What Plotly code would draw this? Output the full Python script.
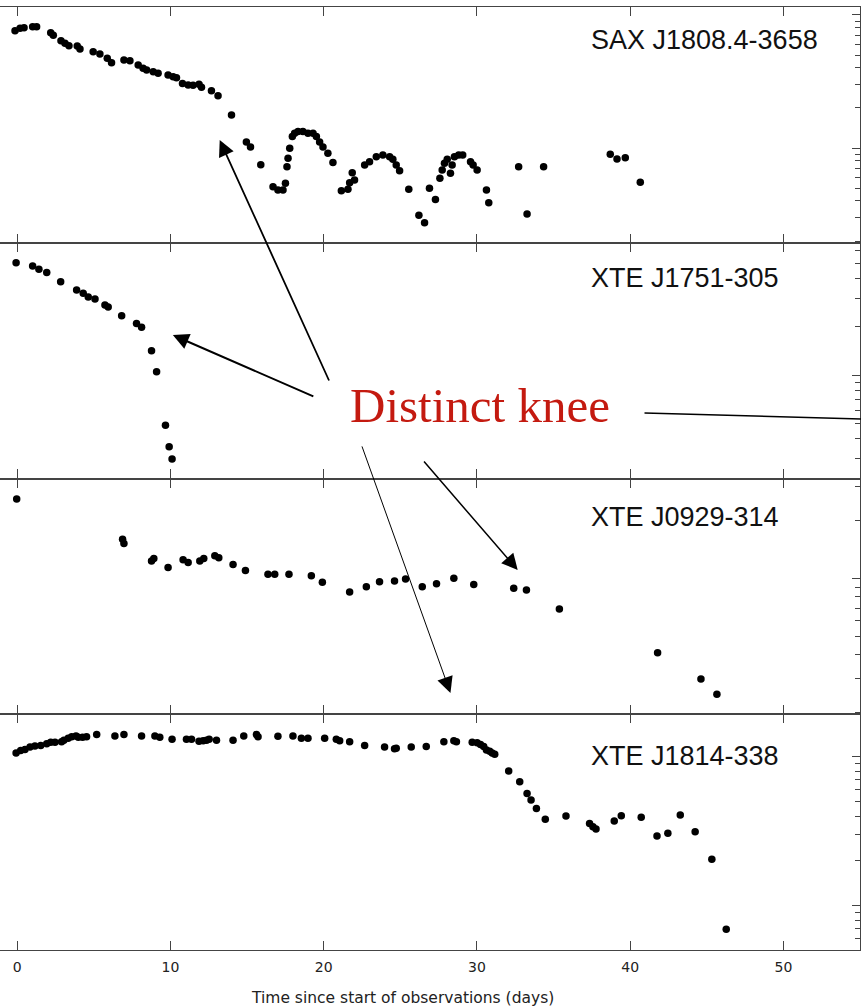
import math
import plotly.graph_objects as go
from plotly.subplots import make_subplots

# ---- light curves (time in days, flux in units of 1e-10 erg cm^-2 s^-1) ----
sax_t = [-0.15, 0.18, 0.44, 1.00, 1.26, 2.18, 2.35, 2.85, 3.11, 3.37, 3.91, 4.09, 4.95, 5.39,
         5.87, 6.15, 6.96, 7.35, 7.89, 8.21, 8.44, 8.87, 9.19, 9.84, 10.17, 10.39, 10.78, 11.15,
         11.47, 11.86, 12.02, 12.67, 13.10, 13.98, 14.95, 15.22, 15.89, 16.69, 17.01, 17.34,
         17.50, 17.60, 17.67, 17.78, 17.95, 18.10, 18.32, 18.64, 18.97, 19.30, 19.52, 19.73,
         19.95, 20.27, 20.60, 21.15, 21.58, 21.69, 21.86, 22.01, 22.67, 22.99, 23.43, 23.86,
         24.30, 24.51, 24.73, 24.95, 25.55, 26.21, 26.58, 26.90, 27.29, 27.58, 27.73, 27.88,
         28.06, 28.27, 28.38, 28.53, 28.81, 29.07, 29.58, 29.75, 30.01, 30.62, 30.77, 32.72,
         33.27, 34.35, 38.70, 39.14, 39.68, 40.66]
sax_f = [7.62, 7.94, 8.03, 8.17, 8.17, 7.36, 7.03, 6.41, 6.12, 5.88, 5.85, 5.55, 5.30, 5.09,
         4.72, 4.38, 4.59, 4.53, 4.21, 3.97, 3.86, 3.75, 3.65, 3.54, 3.44, 3.38, 3.06, 2.98,
         2.96, 3.01, 2.86, 2.70, 2.47, 1.77, 1.11, 1.02, 0.75, 0.512, 0.483, 0.483,
         0.543, 0.723, 0.837, 0.995, 1.22, 1.29, 1.33, 1.33, 1.29, 1.29, 1.22, 1.11,
         1.02, 0.912, 0.780, 0.478, 0.489, 0.548, 0.652, 0.575, 0.745, 0.789, 0.860, 0.886,
         0.860, 0.822, 0.745, 0.675, 0.489, 0.313, 0.274, 0.498, 0.411, 0.592, 0.684, 0.767,
         0.822, 0.645, 0.745, 0.860, 0.886, 0.886, 0.789, 0.745, 0.684, 0.483, 0.388, 0.723,
         0.319, 0.723, 0.897, 0.826, 0.845, 0.552]

j1751_t = [-0.08, 1.00, 1.41, 1.92, 2.83, 3.87, 4.30, 4.63, 5.07, 5.72, 5.93, 6.81, 7.78,
           8.11, 8.76, 9.09, 9.67, 9.91, 10.10]
j1751_f = [5.03, 4.80, 4.58, 4.38, 3.83, 3.40, 3.24, 3.08, 2.99, 2.74, 2.66, 2.35, 2.10,
           1.99, 1.42, 1.05, 0.485, 0.356, 0.299]

j0929_t = [-0.04, 6.87, 6.96, 8.76, 8.91, 9.84, 10.82, 11.15, 11.91, 12.17, 12.89, 13.15,
           14.08, 14.89, 16.36, 16.80, 17.73, 19.19, 19.91, 21.69, 22.78, 23.64, 24.62, 25.34,
           26.43, 27.36, 28.49, 29.79, 32.40, 33.23, 35.38, 41.79, 44.62, 45.66]
j0929_f = [2.59, 1.60, 1.52, 1.23, 1.27, 1.14, 1.25, 1.21, 1.23, 1.27, 1.31, 1.28,
           1.18, 1.10, 1.05, 1.05, 1.05, 1.03, 0.953, 0.849, 0.904, 0.960, 0.968, 0.992,
           0.904, 0.937, 1.00, 0.930, 0.887, 0.869, 0.692, 0.410, 0.299, 0.249]

j1814_t = [-0.08, 0.22, 0.50, 0.83, 1.15, 1.53, 1.92, 2.18, 2.46, 2.89, 3.04, 3.32, 3.55,
           3.83, 3.98, 4.26, 4.52, 5.18, 6.37, 6.96, 8.11, 8.98, 9.30, 10.10, 11.04, 11.37,
           11.86, 12.13, 12.35, 12.52, 13.00, 14.08, 14.78, 15.61, 15.71, 17.01, 17.99, 18.54,
           18.97, 20.06, 20.82, 21.04, 21.69, 22.67, 23.97, 24.62, 24.73, 25.71, 26.69, 27.84,
           28.49, 28.66, 29.69, 30.01, 30.23, 30.44, 30.62, 30.83, 30.99, 31.16, 32.07, 32.79,
           33.27, 33.53, 33.88, 34.46, 35.81, 37.35, 37.57, 37.77, 38.96, 39.42, 40.72, 41.75,
           42.46, 43.27, 44.24, 45.33, 46.27]
j1814_f = [1.06, 1.10, 1.12, 1.16, 1.18, 1.19, 1.22, 1.25, 1.25, 1.26, 1.29, 1.33, 1.36,
           1.38, 1.35, 1.35, 1.36, 1.41, 1.38, 1.41, 1.38, 1.38, 1.35, 1.31, 1.31, 1.31,
           1.27, 1.28, 1.29, 1.31, 1.29, 1.29, 1.38, 1.41, 1.36, 1.37, 1.38, 1.33,
           1.33, 1.33, 1.31, 1.28, 1.26, 1.19, 1.16, 1.13, 1.14, 1.16, 1.17, 1.26,
           1.28, 1.26, 1.25, 1.24, 1.21, 1.17, 1.11, 1.09, 1.06, 1.04, 0.802, 0.679,
           0.567, 0.512, 0.450, 0.380, 0.400, 0.357, 0.339, 0.327, 0.370, 0.402, 0.392, 0.294,
           0.306, 0.406, 0.314, 0.205, 0.0695]

source_names = ["SAX J1808.4-3658", "XTE J1751-305", "XTE J0929-314", "XTE J1814-338"]
series = [(sax_t, sax_f), (j1751_t, j1751_f), (j0929_t, j0929_f), (j1814_t, j1814_f)]

# log10 flux ranges for each panel
y_ranges = [[-0.712, 1.060], [-0.647, 0.827], [-0.708, 0.520], [-1.297, 0.285]]

x_ticks = [0, 10, 20, 30, 40, 50]
x_range = [-1.13, 55.0]

W, H = 862, 1007
M_L, M_R, M_T, M_B = 0, 2, 7, 57

fig = make_subplots(rows=4, cols=1, shared_xaxes=True, vertical_spacing=0)

for i, (t, f) in enumerate(series, start=1):
    fig.add_trace(go.Scatter(x=t, y=f, mode="markers",
                             marker=dict(symbol="circle", size=7.5, color="black"),
                             showlegend=False, hoverinfo="x+y"), row=i, col=1)

frame = "#444444"
major_vals = [0.001, 0.01, 0.1, 1, 10, 100]
minor_vals = [k * d for d in [0.001, 0.01, 0.1, 1, 10] for k in range(2, 10)]

for i in range(1, 5):
    fig.update_xaxes(range=x_range, tickvals=x_ticks, ticks="inside", ticklen=9,
                     tickcolor=frame, tickwidth=1.3, showline=True, linecolor=frame,
                     linewidth=1.3, mirror="allticks", showgrid=False, zeroline=False,
                     showticklabels=(i == 4), row=i, col=1)
    fig.update_yaxes(type="log", range=y_ranges[i - 1], side="right", showline=True,
                     linecolor=frame, linewidth=1.3, mirror=False, ticks="inside",
                     ticklen=8, tickcolor=frame, tickwidth=1.3, tickvals=major_vals,
                     showticklabels=False, showgrid=False, zeroline=False,
                     minor=dict(tickvals=minor_vals, ticks="inside", ticklen=5,
                                tickcolor=frame, tickwidth=1.3, showgrid=False),
                     row=i, col=1)

fig.update_xaxes(tickfont=dict(family="DejaVu Sans", size=14, color="#222222"),
                 ticklabelstandoff=4, row=4, col=1)

plot_w = W - M_L - M_R
plot_h = H - M_T - M_B


def px_x(px):
    return (px - M_L) / plot_w


def px_y(py):
    return (H - M_B - py) / plot_h


annotations = []

# source names in each panel
label_rows = [40, 277.5, 517, 756]
for name, py in zip(source_names, label_rows):
    annotations.append(dict(text=name, xref="paper", yref="paper", x=px_x(589), y=px_y(py),
                            xanchor="left", yanchor="middle", showarrow=False,
                            font=dict(family="Liberation Sans", size=27, color="#111111")))

# x-axis title
annotations.append(dict(text="Time since start of observations (days)", xref="paper",
                        yref="paper", x=px_x(402), y=px_y(998), xanchor="center",
                        yanchor="middle", showarrow=False,
                        font=dict(family="DejaVu Sans", size=15.5, color="#222222")))

# callout text
annotations.append(dict(text="Distinct knee", xref="paper", yref="paper", x=px_x(480),
                        y=px_y(405), xanchor="center", yanchor="middle", showarrow=False,
                        font=dict(family="Liberation Serif", size=49, color="#c41a10")))

# arrows pointing at the knees (tip at a time/flux point, tail offset in pixels);
# annotation y on a log axis is given as log10 of the flux
arrows = [
    dict(xref="x", yref="y", t=13.21, flux=1.149, ax=110, ay=242, arrowwidth=1.8),
    dict(xref="x2", yref="y2", t=10.15, flux=1.778, ax=142, ay=62, arrowwidth=2.0),
    dict(xref="x3", yref="y3", t=28.27, flux=0.253, ax=-89, ay=-248, arrowwidth=1.0),
    dict(xref="x3", yref="y3", t=32.66, flux=1.104, ax=-95, ay=-110, arrowwidth=1.5),
]
for a in arrows:
    scale = 16.0 / (5.0 * a["arrowwidth"])
    annotations.append(dict(text="", showarrow=True, arrowhead=2, arrowsize=scale,
                            arrowcolor="black", standoff=0, xref=a["xref"], yref=a["yref"],
                            x=a["t"], y=math.log10(a["flux"]), ax=a["ax"], ay=a["ay"],
                            arrowwidth=a["arrowwidth"]))

# plain leader line running off to the right
annotations.append(dict(text="", xref="paper", yref="paper", x=px_x(862), y=px_y(419),
                        ax=-219, ay=-6, showarrow=True, arrowhead=0, arrowwidth=1.5,
                        arrowcolor="black"))

fig.update_layout(width=W, height=H, margin=dict(l=M_L, r=M_R, t=M_T, b=M_B),
                  paper_bgcolor="white", plot_bgcolor="white", annotations=annotations)

fig.write_html("out.html")
